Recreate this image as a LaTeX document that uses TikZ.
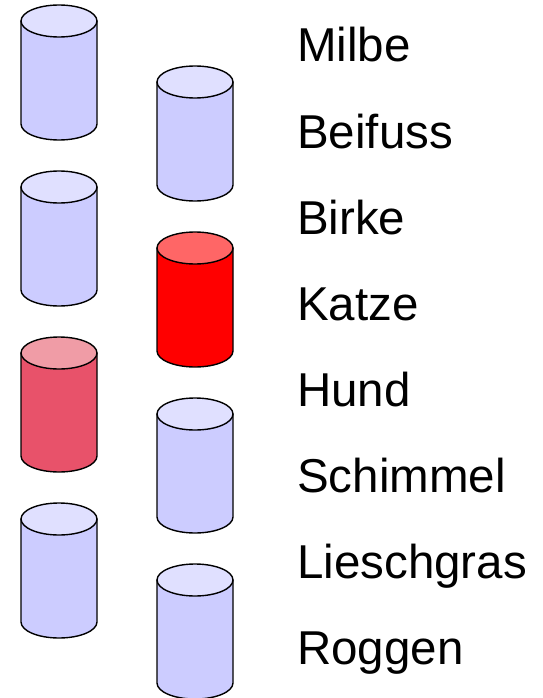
\documentclass[tikz,border=0pt]{standalone}
\usepackage{fontspec}
\setmainfont{Liberation Sans}
\definecolor{bodyblue}{RGB}{204,204,255}
\definecolor{topblue}{RGB}{224,224,255}
\definecolor{bodyred}{RGB}{255,0,0}
\definecolor{topred}{RGB}{255,102,102}
\definecolor{bodypink}{RGB}{232,82,106}
\definecolor{toppink}{RGB}{240,156,166}
\tikzset{
  outline/.style={draw=black,line width=1.4pt,line join=round},
  label/.style={anchor=base west,inner sep=0pt,font=\fontsize{47.5}{50}\selectfont},
  pics/can/.style args={#1/#2}{
    code={
      % body: sides and lower half of the bottom ellipse (y axis points down)
      \path[outline,fill=#1] (-38,16) -- (-38,119)
        arc[start angle=180,end angle=0,x radius=38,y radius=16]
        -- (38,16) -- cycle;
      % lid
      \path[outline,fill=#2] (0,16) ellipse[x radius=38,y radius=16];
    }
  }
}
\begin{document}
\begin{tikzpicture}[x=1pt,y=-1pt]
\useasboundingbox (0,0) rectangle (542,698);
% left column
\pic at (59,5)   {can=bodyblue/topblue};
\pic at (59,171) {can=bodyblue/topblue};
\pic at (59,337) {can=bodypink/toppink};
\pic at (59,503) {can=bodyblue/topblue};
% right column
\pic at (195,66)  {can=bodyblue/topblue};
\pic at (195,232) {can=bodyred/topred};
\pic at (195,398) {can=bodyblue/topblue};
\pic at (195,564) {can=bodyblue/topblue};
% names
\node[label] (milbe)   at (297,62)  {Milbe};
\node[label] (beifuss) at (297,148) {Beifuss};
\node[label] (birke)   at (297,234) {Birke};
\node[label] (katze)   at (297,320) {Katze};
\node[label] (hund)    at (297,406) {Hund};
\node[label] (schim)   at (297,492) {Schimmel};
\node[label] (liesch)  at (297,578) {Lieschgras};
\node[label] (roggen)  at (297,664) {Roggen};
\end{tikzpicture}
\end{document}
